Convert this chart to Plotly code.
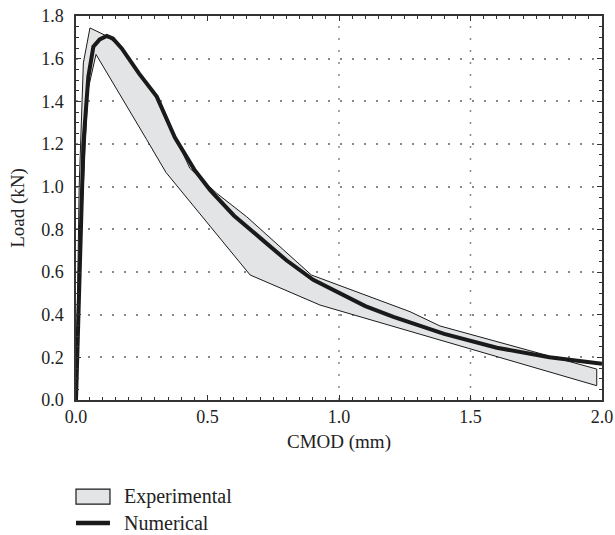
import plotly.graph_objects as go

# Experimental envelope (upper boundary, then lower boundary in reverse)
exp_upper_x = [0.0, 0.012, 0.028, 0.053, 0.117, 0.174, 0.307, 0.433, 0.535, 0.649, 0.895, 1.27, 1.384, 1.98]
exp_upper_y = [0.0, 1.0, 1.58, 1.744, 1.706, 1.65, 1.42, 1.086, 0.969, 0.859, 0.586, 0.414, 0.347, 0.145]
exp_lower_x = [1.98, 1.5, 0.928, 0.662, 0.342, 0.269, 0.076, 0.045, 0.02, 0.0]
exp_lower_y = [0.067, 0.238, 0.445, 0.586, 1.067, 1.22, 1.62, 1.45, 0.8, 0.0]

# Numerical curve
num_x = [0.0, 0.008, 0.015, 0.028, 0.047, 0.066, 0.09, 0.117, 0.14, 0.174, 0.24, 0.307,
         0.376, 0.45, 0.51, 0.6, 0.7, 0.8, 0.902, 1.0, 1.1, 1.207, 1.4, 1.6, 1.8, 2.0]
num_y = [0.0, 0.35, 0.7, 1.2, 1.516, 1.656, 1.69, 1.706, 1.695, 1.648, 1.53, 1.422,
         1.23, 1.08, 0.984, 0.865, 0.76, 0.655, 0.563, 0.50, 0.44, 0.39, 0.31, 0.245, 0.20, 0.17]

x_ticks = [0.0, 0.5, 1.0, 1.5, 2.0]
x_grid = [1.0, 1.5]
y_ticks = [0.0, 0.2, 0.4, 0.6, 0.8, 1.0, 1.2, 1.4, 1.6, 1.8]
legend_names = ["Experimental", "Numerical"]

FONT = "Liberation Serif"
INK = "#1a1a1a"
FILL = "#e3e4e6"
GRID_DASH = "2px,10px"

fig = go.Figure()
fig.add_trace(go.Scatter(
    x=exp_upper_x + exp_lower_x, y=exp_upper_y + exp_lower_y,
    mode="lines", fill="toself", fillcolor=FILL,
    line=dict(color=INK, width=1), name=legend_names[0], showlegend=False))
fig.add_trace(go.Scatter(
    x=num_x, y=num_y, mode="lines", line=dict(color=INK, width=4),
    name=legend_names[1], showlegend=False))

axis_common = dict(
    showline=True, linecolor="#333333", linewidth=1.5, mirror="ticks",
    ticks="inside", ticklen=5, tickcolor="#333333", tickwidth=1,
    zeroline=False, automargin=False,
    tickfont=dict(family=FONT, size=18, color="#222222"),
    title_font=dict(family=FONT, size=19, color="#222222"),
)

fig.update_xaxes(
    range=[0, 2.0], tickvals=x_ticks, ticktext=[f"{v:.1f}" for v in x_ticks],
    showgrid=False, ticklabelstandoff=0,
    title_text="CMOD (mm)", title_standoff=8,
    minor=dict(dtick=0.05, ticks="inside", ticklen=3, tickcolor="#333333", showgrid=False),
    **axis_common)
fig.update_yaxes(
    range=[0, 1.8], tickvals=y_ticks, ticktext=[f"{v:.1f}" for v in y_ticks],
    showgrid=True, gridcolor="#888888", griddash=GRID_DASH, gridwidth=1.5,
    ticklabelstandoff=7,
    title_text="Load (kN)", title_standoff=12,
    minor=dict(dtick=0.05, ticks="inside", ticklen=3, tickcolor="#333333", showgrid=False),
    **axis_common)

# vertical dotted grid lines (only at 1.0 and 1.5 in the reference)
for gx in x_grid:
    fig.add_shape(type="line", xref="x", yref="paper", x0=gx, x1=gx, y0=0, y1=1,
                  line=dict(color="#888888", width=1.5, dash=GRID_DASH), layer="below")

# manual legend below the plot
fig.add_shape(type="rect", xref="paper", yref="paper", x0=0.0, x1=0.0646, y0=-0.232, y1=-0.271,
              fillcolor=FILL, line=dict(color=INK, width=1.2))
fig.add_shape(type="line", xref="paper", yref="paper", x0=0.0, x1=0.0646, y0=-0.320, y1=-0.320,
              line=dict(color=INK, width=4.5))
for name, ly in zip(legend_names, [-0.2526, -0.320]):
    fig.add_annotation(text=name, xref="paper", yref="paper", x=0.0875, y=ly,
                       xanchor="left", yanchor="middle", showarrow=False,
                       font=dict(family=FONT, size=20, color="#222222"))

fig.update_layout(
    width=615, height=535,
    margin=dict(l=76, r=13, t=16, b=135),
    plot_bgcolor="white", paper_bgcolor="white",
    font=dict(family=FONT, size=18, color="#222222"),
    showlegend=False,
)

fig.write_html("out.html")
